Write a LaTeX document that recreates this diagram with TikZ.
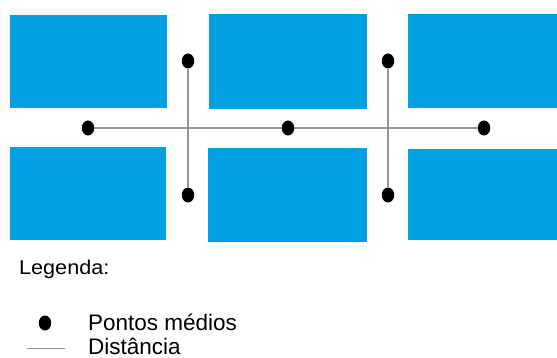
\documentclass[tikz,border=0pt]{standalone}
\usepackage{fontspec}
\setmainfont{Liberation Sans}
\usetikzlibrary{shapes.geometric}
\definecolor{lotblue}{RGB}{0,160,227}
\definecolor{linegray}{RGB}{150,150,150}
\tikzset{
  lot/.style={fill=lotblue},
  dotpt/.style={ellipse,fill=black,inner sep=0pt,minimum width=12.5pt,minimum height=15pt},
  dist/.style={draw=linegray,line width=1.4pt},
  txt/.style={anchor=base west,inner sep=0pt,text=black}
}
\begin{document}
\begin{tikzpicture}[x=1pt,y=-1pt]
\useasboundingbox (0,0) rectangle (557,358);
% lots
\fill[lot] (10,15) rectangle (167,108);
\fill[lot] (10,147) rectangle (166,240);
\fill[lot] (209,14) rectangle (367,109);
\fill[lot] (208,148) rectangle (367,242);
\fill[lot] (408,14) rectangle (557,108);
\fill[lot] (408,149) rectangle (557,240);
% midpoints
\node[dotpt] (l) at (88,128) {};
\node[dotpt] (c) at (288,128) {};
\node[dotpt] (r) at (484,128) {};
\node[dotpt] (t1) at (188,61) {};
\node[dotpt] (b1) at (188,195) {};
\node[dotpt] (t2) at (388,61) {};
\node[dotpt] (b2) at (388,195) {};
\draw[dist] (l) -- (c) -- (r);
\draw[dist] (t1) -- (b1);
\draw[dist] (t2) -- (b2);
% legend
\node[txt,font=\fontsize{20}{24}\selectfont,xscale=1.08] (leg) at (19,274) {Legenda:};
\node[dotpt] (ldot) at (45,323) {};
\node[txt,font=\fontsize{22.5}{26}\selectfont] (lp) at (88,330) {Pontos médios};
\coordinate (la) at (27,348);
\coordinate (lb) at (65,348);
\draw[dist,line width=1pt] (la) -- (lb);
\node[txt,font=\fontsize{22.5}{26}\selectfont] (ld) at (88,354) {Distância};
\end{tikzpicture}
\end{document}
